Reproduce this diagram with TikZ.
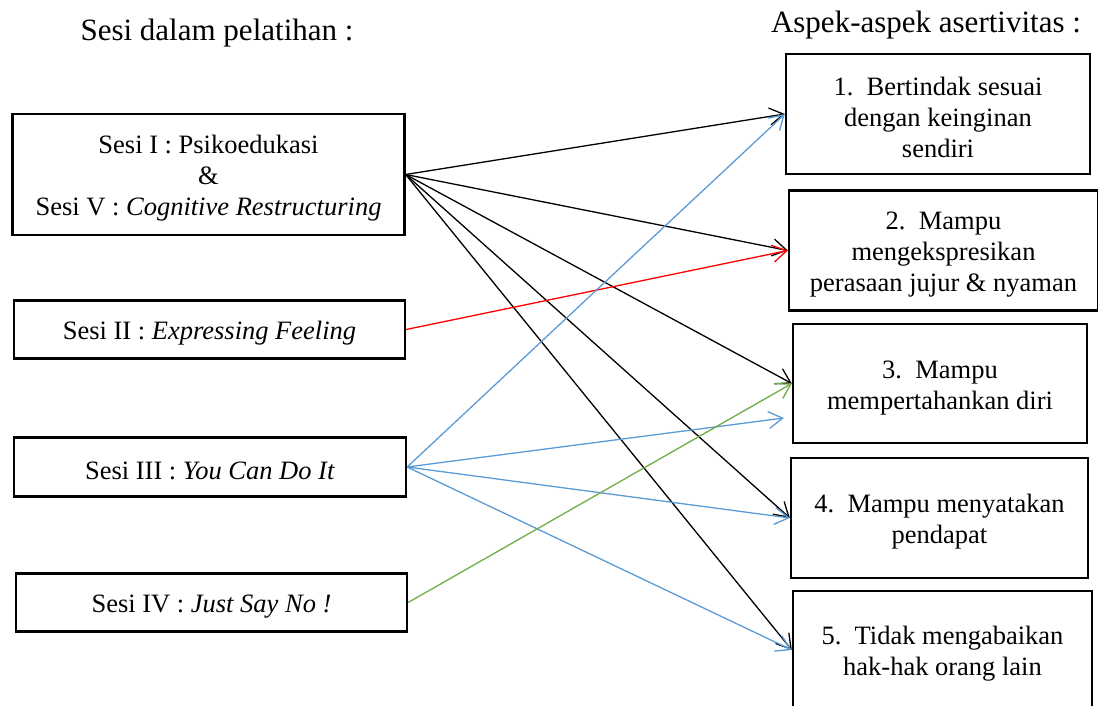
\documentclass[tikz,border=0pt]{standalone}
\usepackage{fontspec}
\setmainfont{Liberation Serif}
\usetikzlibrary{arrows.meta,calc}
\definecolor{cblue}{RGB}{91,155,213}
\definecolor{cgreen}{RGB}{112,173,71}
\definecolor{cred}{RGB}{255,0,0}
\newcommand\tstrut{\rule{0pt}{26pt}}
\begin{document}
\begin{tikzpicture}[x=1pt,y=-1pt,
  box/.style={draw=black, line width=2.3pt, align=center, inner sep=0pt,
    font=\fontsize{26.5}{31}\selectfont},
  ttl/.style={font=\fontsize{31}{36}\selectfont, inner sep=0pt},
  conn/.style={line width=1.3pt, -{Straight Barb[length=14pt,width=17pt,line width=1.3pt]}},
  ]
\useasboundingbox (0,0) rectangle (1098,706);
% titles
\node[ttl] (t1) at (217,33) {Sesi dalam pelatihan :};
\node[ttl] (t2) at (926,25) {Aspek-aspek asertivitas :};
% left boxes
\node[box, minimum width=392pt, minimum height=121pt] (A) at (208.5,174.5)
  {\tstrut Sesi I : Psikoedukasi\\ \&\\ Sesi V : \textit{Cognitive Restructuring}};
\node[box, minimum width=391pt, minimum height=58pt] (B) at (209.5,329.5)
  {\tstrut Sesi II : \textit{Expressing Feeling}};
\node[box, minimum width=392pt, minimum height=59pt] (C) at (210,467)
  {\tstrut Sesi III : \textit{You Can Do It}};
\node[box, minimum width=391pt, minimum height=58pt] (D) at (211.5,602.5)
  {\tstrut Sesi IV : \textit{Just Say No !}};
% right boxes
\node[box, minimum width=304pt, minimum height=120pt] (R1) at (938,114)
  {\tstrut 1.\ \ Bertindak sesuai\\ dengan keinginan\\ sendiri};
\node[box, minimum width=309pt, minimum height=120pt] (R2) at (943.5,250.5)
  {\tstrut 2.\ \ Mampu\\ mengekspresikan\\ perasaan jujur \& nyaman};
\node[box, minimum width=294pt, minimum height=119pt] (R3) at (940,383.5)
  {\tstrut 3.\ \ Mampu\\ mempertahankan diri};
\node[box, minimum width=297pt, minimum height=120pt] (R4) at (939.5,518)
  {\tstrut 4.\ \ Mampu menyatakan\\ pendapat};
\node[box, minimum width=299pt, minimum height=118pt] (R5) at (942.5,650)
  {\tstrut 5.\ \ Tidak mengabaikan\\ hak-hak orang lain};
\coordinate (R3b) at ($(R3.west)+(-8,34.5)$);
% connectors from A
\draw[conn] (A.east) -- (R1.west);
\draw[conn] (A.east) -- (R2.west);
\draw[conn] (A.east) -- (R3.west);
\draw[conn] (A.east) -- (R4.west);
\draw[conn] (A.east) -- (R5.west);
% from B
\draw[conn, cred] (B.east) -- (R2.west);
% from C
\draw[conn, cblue] (C.east) -- (R1.west);
\draw[conn, cblue] (C.east) -- (R3b);
\draw[conn, cblue] (C.east) -- (R4.west);
\draw[conn, cblue] (C.east) -- (R5.west);
% from D
\draw[conn, cgreen] (D.east) -- (R3.west);
\end{tikzpicture}
\end{document}
